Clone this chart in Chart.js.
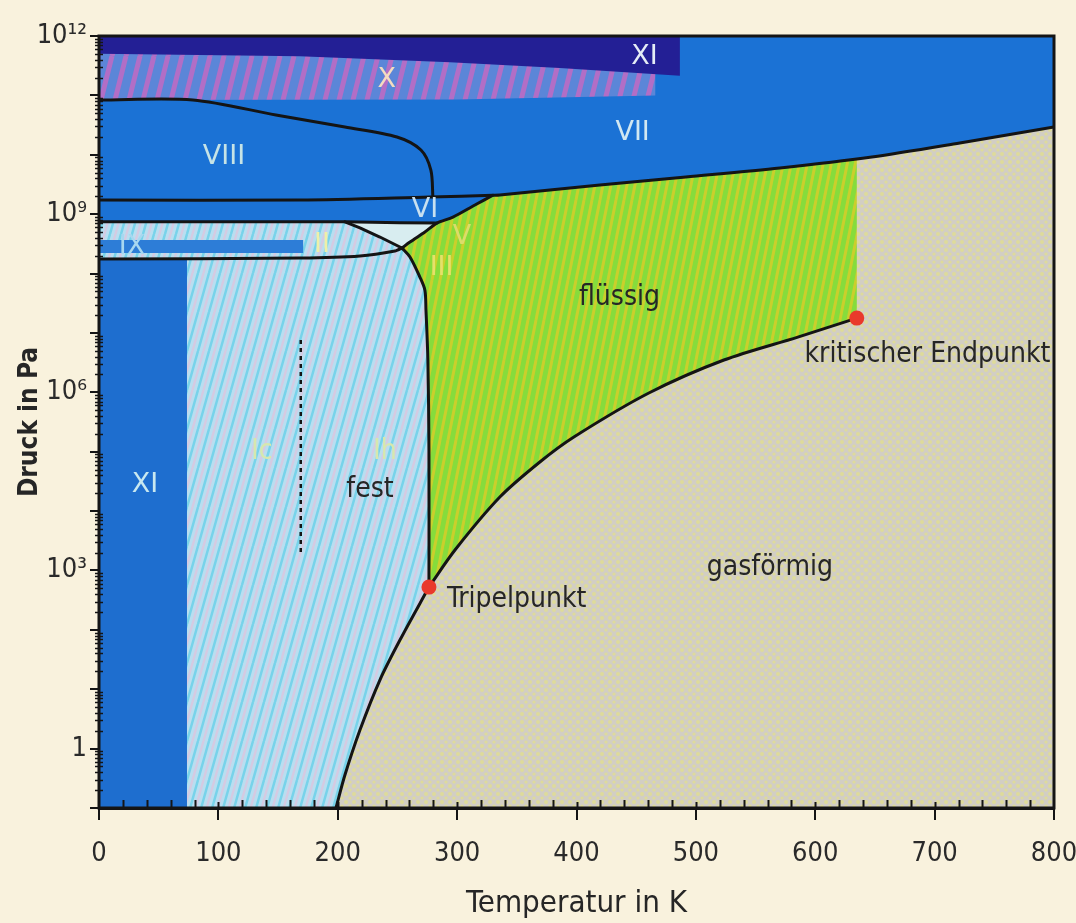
<!DOCTYPE html>
<html>
<head>
<meta charset="utf-8">
<script src="https://cdn.jsdelivr.net/npm/chart.js@4.4.1/dist/chart.umd.min.js"></script>
<style>
  html, body { margin: 0; padding: 0; background: #f9f2dd; }
  canvas { display: block; }
</style>
</head>
<body>
<canvas id="c" width="1076" height="923"></canvas>
<script>
// ---------------- data (T in K, log10 of p in Pa) ----------------
const temperatureTicks = [0, 100, 200, 300, 400, 500, 600, 700, 800];
const pressureDecades = [-1, 0, 1, 2, 3, 4, 5, 6, 7, 8, 9, 10, 11, 12];
const labelledDecades = [0, 3, 6, 9, 12];

const boundaryVIIIupper = [[0, 10.922], [78.7, 10.922], [148.2, 10.67], [206, 10.467], [249.6, 10.30], [269.7, 10.08], [278, 9.743], [279.7, 9.289]];
const boundaryA = [[0, 9.238], [168.3, 9.238], [277.2, 9.289], [330, 9.318], [335.8, 9.322], [419.6, 9.491], [491.6, 9.626], [570.4, 9.777], [647.4, 9.962], [721.1, 10.198], [800, 10.467]];
const boundaryB = [[0, 8.87], [206, 8.87], [252, 8.855], [283.1, 8.85]];
const boundaryIIV = [[206, 8.87], [218.6, 8.77], [235.3, 8.615], [253.8, 8.43]];
const boundaryC = [[0, 8.245], [168.3, 8.26], [218.6, 8.295], [247.9, 8.38], [253.8, 8.43]];
const boundaryHighMelt = [[253.8, 8.43], [260.5, 8.53], [273, 8.70], [283.1, 8.85], [296.5, 8.95], [314.9, 9.155], [330, 9.318]];
const meltingIh = [[253.8, 8.43], [260.5, 8.278], [268.8, 7.94], [273, 7.72], [273.9, 7.386], [275.5, 6.544], [276.4, 5.028], [276.4, 2.72]];
const sublimation = [[276.4, 2.72], [252.1, 1.828], [235.3, 1.155], [218.6, 0.313], [206.0, -0.445], [198.5, -1.0]];
const vaporization = [[276.4, 2.72], [298.2, 3.344], [335.8, 4.236], [369.3, 4.826], [397.8, 5.247], [460.6, 5.988], [523.5, 6.544], [585.4, 6.93], [634.8, 7.25]];
const icIhDivider = [[169, 6.88], [169, 3.26]];
const navyBandLower = [[486.6, 11.33], [386, 11.46], [294, 11.56], [168.3, 11.66], [0, 11.70]];
const iceXLower = [[466, 11.0], [300, 10.93], [0, 10.922]];
const triplePoint = [276.4, 2.72];
const criticalPoint = [634.8, 7.25];
const liquidRightEdgeT = 634.8;
const liquidTopAtEdge = 9.932;
const iceXIcolumnT = 73.7;
const iceIXband = [171, 8.345, 8.565];  // T max, log p min, log p max

// annotation texts [text, T, log10 p]
const phaseLabels = [
  ['XI', 457, 11.65, 'roman', '#e4ecf6'],
  ['X', 241, 11.26, 'roman', '#f4dcc0'],
  ['VIII', 104.7, 9.96, 'roman', '#c6e3e6'],
  ['VII', 447, 10.37, 'roman', '#d2e8f2'],
  ['VI', 273, 9.07, 'roman', '#c8e0f0'],
  ['V', 304, 8.615, 'roman', '#dcdc6a'],
  ['III', 287, 8.09, 'roman', '#e6e06a'],
  ['II', 186.8, 8.48, 'roman', '#eef0a8'],
  ['IX', 27.6, 8.45, 'roman', '#a8d8f0'],
  ['XI', 38.5, 4.44, 'roman', '#c8e8f0'],
  ['Ic', 136.5, 5.0, 'text', '#d6e8ae'],
  ['Ih', 239.5, 5.0, 'text', '#d6e8ae'],
  ['fest', 227, 4.355, 'text', '#262626'],
  ['flüssig', 436, 7.6, 'text', '#262626'],
  ['gasförmig', 562, 3.04, 'text', '#262626'],
  ['kritischer Endpunkt', 694, 6.63, 'text', '#262626']
];
const tripleLabel = ['Tripelpunkt', 291.5, 2.50];

// ---------------- styles ----------------
const FONT = '"DejaVu Sans Condensed", "Liberation Sans Narrow", "Roboto", sans-serif';
const ROMAN = '"DejaVu Sans", "Open Sans", sans-serif';
const canvas = document.getElementById('c');
const mainCtx = canvas.getContext('2d');

function stripes(bg, fg1, fg2, period, rise, lw) {
  const t = document.createElement('canvas');
  t.width = period; t.height = Math.round(period * rise);
  const g = t.getContext('2d');
  g.fillStyle = bg; g.fillRect(0, 0, t.width, t.height);
  g.lineWidth = lw;
  const draw = (col, off) => {
    g.strokeStyle = col;
    for (let k = -2; k <= 2; k++) {
      g.beginPath();
      g.moveTo(k * period + off, t.height);
      g.lineTo((k + 1) * period + off, 0);
      g.stroke();
    }
  };
  draw(fg1, 0);
  if (fg2) draw(fg2, period / 2);
  return mainCtx.createPattern(t, 'repeat');
}
function dots(bg, fg) {
  const t = document.createElement('canvas');
  t.width = 8; t.height = 8;
  const g = t.getContext('2d');
  g.fillStyle = bg; g.fillRect(0, 0, 8, 8);
  g.fillStyle = fg;
  g.beginPath(); g.arc(2, 2, 2, 0, Math.PI * 2); g.fill();
  g.beginPath(); g.arc(6, 6, 1.6, 0, Math.PI * 2); g.fill();
  return mainCtx.createPattern(t, 'repeat');
}

const gasFill = dots('#d2cec4', '#dedb9a');
const liquidFill = stripes('#86dc3c', '#cacf2c', null, 8, 5, 3);
const lightIceFill = stripes('#b9def0', '#78d3ea', '#d4cbe2', 11, 3.5, 2.5);
const iceXFill = stripes('#5b86d8', '#b26ec6', null, 14, 4, 5);

// ---------------- build datasets ----------------
const toXY = pts => pts.map(([t, l]) => ({ x: t, y: Math.pow(10, l) }));
const datasets = [];
function region(pts, color, order) {
  const closed = pts.concat([pts[0]]);
  datasets.push({ data: toXY(closed), fill: 'shape', backgroundColor: color, borderWidth: 0,
    borderColor: 'rgba(0,0,0,0)', pointRadius: 0, tension: 0, order: order });
}
function curve(pts, extra) {
  datasets.push(Object.assign({ data: toXY(pts), fill: false, borderColor: '#141414', borderWidth: 3,
    pointRadius: 0, tension: 0.3, order: 3, borderCapStyle: 'round', borderJoinStyle: 'round' }, extra || {}));
}
const rev = a => a.slice().reverse();
const J3 = boundaryHighMelt[boundaryHighMelt.length - 1];

// gas everywhere
region([[0, -1], [800, -1], [800, 12], [0, 12]], gasFill, 30);
// all solid phases (blue)
region([[0, 12], [800, 12]]
  .concat(rev(boundaryA.filter(p => p[0] > J3[0])))
  .concat(rev(boundaryHighMelt))
  .concat(meltingIh.slice(1))
  .concat(sublimation.slice(1))
  .concat([[0, -1]]), '#1b72d5', 29);
// ice X hatched
region([[0, 12], [iceXLower[0][0], 12]].concat(iceXLower), iceXFill, 28);
// navy band (XI high pressure)
region([[0, 12], [navyBandLower[0][0], 12]].concat(navyBandLower), '#231f95', 27);
// light ice (Ih / Ic / II)
region([[0, boundaryB[0][1]], boundaryB[1]]
  .concat(boundaryIIV.slice(1))
  .concat(meltingIh.slice(1))
  .concat(sublimation.slice(1))
  .concat([[0, -1]]), lightIceFill, 26);
// XI column
region([[0, -1], [iceXIcolumnT, -1], [iceXIcolumnT, boundaryC[0][1] + 0.01], [0, boundaryC[0][1] + 0.01]], '#1e6ecf', 25);
// IX band
region([[0, iceIXband[1]], [iceIXband[0], iceIXband[1]], [iceIXband[0], iceIXband[2]], [0, iceIXband[2]]], '#2d7dd7', 24);
// ice V
region(boundaryB.slice(1)
  .concat(rev(boundaryHighMelt.slice(0, 3)))
  .concat(rev(boundaryIIV.slice(0, 3))), '#d8edf0', 23);
// liquid
region(rev(meltingIh)
  .concat(boundaryHighMelt.slice(1))
  .concat(boundaryA.filter(p => p[0] > J3[0] && p[0] < liquidRightEdgeT))
  .concat([[liquidRightEdgeT, liquidTopAtEdge], criticalPoint])
  .concat(rev(vaporization).slice(1)), liquidFill, 22);

// phase boundaries
curve(boundaryVIIIupper);
curve(boundaryA);
curve(boundaryB, { tension: 0 });
curve(boundaryIIV, { tension: 0 });
curve(boundaryC, { tension: 0.2 });
curve(boundaryHighMelt);
curve(meltingIh);
curve(sublimation);
curve(vaporization);
curve(icIhDivider, { borderWidth: 2.5, borderDash: [4, 4], tension: 0, borderCapStyle: 'butt' });
// triple point & critical point
datasets.push({ data: toXY([triplePoint, criticalPoint]), showLine: false, pointRadius: 7.5,
  pointHoverRadius: 7.5, pointBackgroundColor: '#e9392b', pointBorderWidth: 0, order: 1 });

const supMap = { '0': '⁰', '1': '¹', '2': '²', '3': '³', '4': '⁴', '5': '⁵', '6': '⁶', '7': '⁷', '8': '⁸', '9': '⁹' };
const supStr = n => String(n).split('').map(c => supMap[c]).join('');

const decorPlugin = {
  id: 'decor',
  afterDatasetsDraw(chart) {
    const { ctx, chartArea: a, scales: { x, y } } = chart;
    ctx.save();
    ctx.strokeStyle = '#151515';
    // minor y ticks
    ctx.lineWidth = 1.5;
    for (let d = -1; d < 12; d++) {
      for (let m = 2; m <= 9; m++) {
        const py = Math.round(y.getPixelForValue(m * Math.pow(10, d))) + 0.5;
        ctx.beginPath(); ctx.moveTo(a.left - 4, py); ctx.lineTo(a.left + 4, py); ctx.stroke();
      }
    }
    // minor x ticks
    ctx.lineWidth = 2;
    for (let t = 20; t < 800; t += 20) {
      const px = Math.round(x.getPixelForValue(t)) + 0.5;
      const up = t % 100 === 0 ? 6 : 8;
      ctx.beginPath(); ctx.moveTo(px, a.bottom - up); ctx.lineTo(px, a.bottom); ctx.stroke();
    }
    // frame
    ctx.lineWidth = 3;
    ctx.strokeRect(a.left, a.top, a.right - a.left, a.bottom - a.top);
    // labels
    ctx.textAlign = 'center';
    ctx.textBaseline = 'middle';
    for (const [txt, t, l, kind, col] of phaseLabels) {
      ctx.font = kind === 'roman' ? '27px ' + ROMAN : '28px ' + FONT;
      ctx.fillStyle = col;
      ctx.fillText(txt, x.getPixelForValue(t), y.getPixelForValue(Math.pow(10, l)));
    }
    ctx.textAlign = 'left';
    ctx.font = '28px ' + FONT;
    ctx.fillStyle = '#262626';
    ctx.fillText(tripleLabel[0], x.getPixelForValue(tripleLabel[1]), y.getPixelForValue(Math.pow(10, tripleLabel[2])));
    ctx.restore();
  }
};

new Chart(canvas, {
  type: 'line',
  data: { datasets },
  options: {
    responsive: false,
    animation: false,
    devicePixelRatio: 1,
    events: [],
    layout: { padding: { left: 0, top: 36, right: 22, bottom: 0 } },
    plugins: { legend: { display: false }, tooltip: { enabled: false } },
    scales: {
      x: {
        type: 'linear', position: 'bottom', min: 0, max: 800,
        afterBuildTicks: s => { s.ticks = temperatureTicks.map(v => ({ value: v })); },
        afterFit: s => { s.height = 115; s.paddingLeft = 0; s.paddingRight = 0; },
        grid: { drawOnChartArea: false, drawTicks: true, tickLength: 12, color: '#151515', lineWidth: 2 },
        border: { display: true, color: '#151515', width: 3 },
        ticks: { color: '#2a2a2a', padding: 18, maxRotation: 0, autoSkip: false, font: { family: FONT, size: 27 } },
        title: { display: true, text: 'Temperatur in K', color: '#262626', font: { family: FONT, size: 31, lineHeight: 0.95 } }
      },
      y: {
        type: 'logarithmic', position: 'left', min: 0.1, max: 1e12,
        afterBuildTicks: s => { s.ticks = pressureDecades.map(d => ({ value: Math.pow(10, d) })); },
        afterFit: s => { s.width = 99; s.paddingTop = 0; s.paddingBottom = 0; },
        grid: { drawOnChartArea: false, drawTicks: true, tickLength: 9, color: '#151515', lineWidth: 2 },
        border: { display: true, color: '#151515', width: 3 },
        ticks: {
          color: '#2a2a2a', padding: 3, autoSkip: false, font: { family: FONT, size: 27 },
          callback: v => {
            const e = Math.round(Math.log10(v));
            if (!labelledDecades.includes(e)) return '';
            return e === 0 ? '1' : '10' + supStr(e);
          }
        },
        title: { display: true, text: 'Druck in Pa', color: '#262626', font: { family: FONT, size: 26, weight: 'bold', lineHeight: 2.0 } }
      }
    }
  },
  plugins: [decorPlugin]
});
</script>
</body>
</html>
